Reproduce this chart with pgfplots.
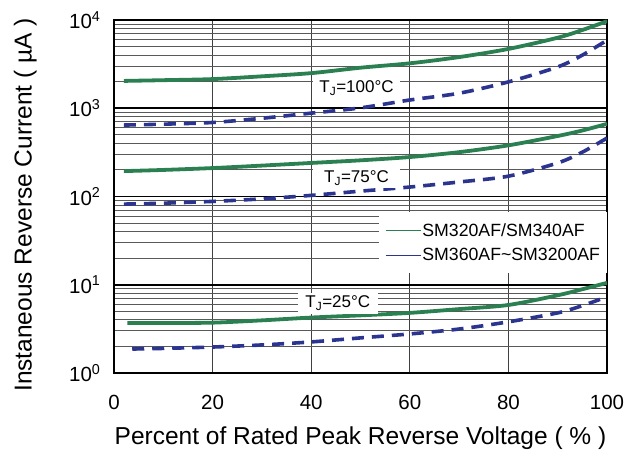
\documentclass[border=0pt]{standalone}
\usepackage{pgfplots}
\pgfplotsset{compat=1.18}
\usepackage{fontspec}
\setmainfont{Liberation Sans}

\definecolor{curvegreen}{HTML}{2A8050}
\definecolor{curveblue}{HTML}{2B3590}

\begin{document}
\begin{tikzpicture}
  \begin{axis}[
      scale only axis,
      width=493pt, height=353pt,
      xmin=0, xmax=100,
      ymode=log, ymin=1, ymax=10000,
      xtick={0,20,40,60,80,100},
      ytick={1,10,100,1000,10000},
      yticklabels={10\textsuperscript{0},10\textsuperscript{1},10\textsuperscript{2},10\textsuperscript{3},10\textsuperscript{4}},
      /pgf/number format/assume math mode=true,
      major tick length=0pt, minor tick length=0pt,
      axis line style={black, line width=1.8pt},
      xmajorgrids, ymajorgrids, yminorgrids,
      major x grid style={black!75, line width=1.1pt},
      major y grid style={black, line width=1.5pt},
      minor y grid style={black!65, line width=0.9pt},
      tick label style={font=\fontsize{20.5}{24}\selectfont},
      xticklabel style={anchor=center, yshift=-29pt},
      yticklabel style={anchor=east, xshift=-10pt},
      xlabel={Percent of Rated Peak Reverse Voltage ( \% )},
      ylabel={Instaneous Reverse Current ( µA )},
      label style={font=\fontsize{24.5}{28}\selectfont},
      xlabel style={at={(axis description cs:0.5,-0.185)}, anchor=center},
      ylabel style={at={(axis description cs:-0.18,0.476)}, anchor=center},
      legend style={at={(rel axis cs:0.5375,0.456)}, anchor=north west,
        draw=none, fill=white, font=\fontsize{17.7}{20}\selectfont,
        inner xsep=6pt, inner ysep=10pt, row sep=9pt,
        nodes={inner xsep=1pt, inner ysep=1pt}},
      legend cell align=left,
      legend image code/.code={\draw[#1, solid, line width=1.2pt] (0pt,0pt) -- (35pt,0pt);},
    ]
    % T_J = 100 C
    \addplot[curvegreen, line width=3.8pt, smooth] coordinates {
      (2,2040) (10,2080) (20,2140) (30,2300) (40,2500) (50,2880) (60,3230)
      (70,3800) (80,4700) (90,6300) (95,7700) (100,9700)};
    \addlegendentry{SM320AF/SM340AF}
    \addplot[curveblue, line width=3.6pt, dash pattern=on 12pt off 8pt, smooth] coordinates {
      (2,645) (10,660) (20,690) (30,770) (40,880) (50,1010) (60,1240)
      (70,1480) (80,1990) (90,2940) (95,4000) (100,5900)};
    \addlegendentry{SM360AF\textasciitilde SM3200AF}
    % T_J = 75 C
    \addplot[curvegreen, line width=3.8pt, smooth, forget plot] coordinates {
      (2,194) (10,200) (20,210) (30,224) (40,240) (50,257) (60,280)
      (70,318) (80,380) (90,485) (95,560) (100,665)};
    \addplot[curveblue, line width=3.6pt, dash pattern=on 12pt off 8pt, smooth, forget plot] coordinates {
      (2,82) (10,84) (20,88) (30,94) (40,103) (50,115) (60,128)
      (70,146) (80,170) (90,240) (95,318) (100,460)};
    % T_J = 25 C
    \addplot[curvegreen, line width=3.8pt, smooth, forget plot] coordinates {
      (2.7,3.69) (10,3.69) (20,3.72) (30,3.95) (40,4.25) (50,4.5) (60,4.8)
      (70,5.3) (80,5.9) (90,7.6) (95,8.9) (100,10.5)};
    \addplot[curveblue, line width=3.6pt, dash pattern=on 12pt off 8pt, smooth, forget plot] coordinates {
      (3.7,1.87) (10,1.9) (20,1.97) (30,2.08) (40,2.25) (50,2.5) (60,2.77)
      (70,3.15) (80,3.8) (90,4.8) (95,5.8) (100,7.3)};

    \node[fill=white, minimum width=87pt, minimum height=20pt, inner sep=0pt,
          font=\fontsize{17}{20}\selectfont] at (axis cs:49.2,1700) {T\textsubscript{J}=100°C};
    \node[fill=white, minimum width=87pt, minimum height=19pt, inner sep=0pt,
          font=\fontsize{17}{20}\selectfont] at (axis cs:49.2,162) {T\textsubscript{J}=75°C};
    \node[fill=white, minimum width=80pt, minimum height=21pt, inner sep=0pt,
          font=\fontsize{17}{20}\selectfont] at (axis cs:45.4,6.2) {T\textsubscript{J}=25°C};
  \end{axis}
  \path[use as bounding box] (-114pt,-83pt) rectangle (522pt,373pt);
\end{tikzpicture}
\end{document}
